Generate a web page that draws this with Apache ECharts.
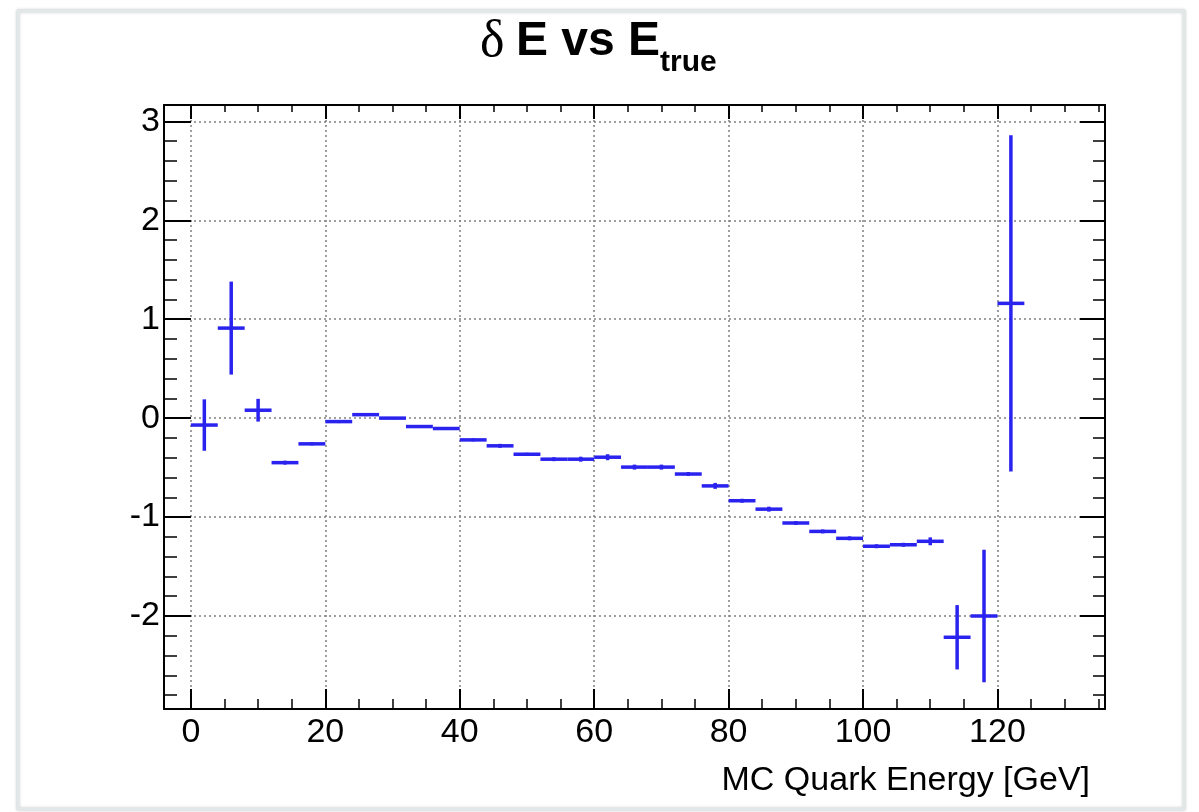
<!DOCTYPE html>
<html>
<head>
<meta charset="utf-8">
<script src="https://cdn.jsdelivr.net/npm/echarts@6/dist/echarts.min.js"></script>
<style>
  html, body { margin: 0; padding: 0; background: #ffffff; }
  #chart { width: 1199px; height: 812px; }
</style>
</head>
<body>
<div id="chart"></div>
<script>
// ---- data ----
const binCenters = [2, 6, 10, 14, 18, 22, 26, 30, 34, 38, 42, 46, 50, 54, 58, 62,
                    66, 70, 74, 78, 82, 86, 90, 94, 98, 102, 106, 110, 114, 118, 122];
const binHalfWidths = [2, 2, 2, 2, 2, 2, 2, 2, 2, 2, 2, 2, 2, 2, 2, 2,
                       2, 2, 2, 2, 2, 2, 2, 2, 2, 2, 2, 2, 2, 2, 2];
const deltaE = [-0.07, 0.91, 0.08, -0.45, -0.26, -0.035, 0.035, 0.0, -0.085, -0.105,
                -0.22, -0.28, -0.365, -0.415, -0.415, -0.395, -0.495, -0.495, -0.565, -0.685,
                -0.835, -0.92, -1.06, -1.145, -1.215, -1.295, -1.28, -1.245, -2.215, -2.0, 1.16];
const deltaEErr = [0.26, 0.47, 0.115, 0.02, 0.015, 0.015, 0.015, 0.01, 0.015, 0.015,
                   0.015, 0.02, 0.015, 0.02, 0.025, 0.03, 0.025, 0.025, 0.02, 0.03,
                   0.02, 0.025, 0.02, 0.02, 0.02, 0.02, 0.02, 0.04, 0.325, 0.67, 1.70];

const xMajorTicks = [0, 20, 40, 60, 80, 100, 120];
const xMinorTicks = [5, 10, 15, 25, 30, 35, 45, 50, 55, 65, 70, 75, 85, 90, 95,
                     105, 110, 115, 125, 130, 135];
const yMajorTicks = [-2, -1, 0, 1, 2, 3];
const yMinorTicks = [-2.8, -2.6, -2.4, -2.2, -1.8, -1.6, -1.4, -1.2, -0.8, -0.6, -0.4, -0.2,
                     0.2, 0.4, 0.6, 0.8, 1.2, 1.4, 1.6, 1.8, 2.2, 2.4, 2.6, 2.8];

const titleParts = { delta: 'δ', main: 'E vs E', sub: 'true' };
const xTitle = 'MC Quark Energy [GeV]';

// ---- styling ----
const FONT = '"Liberation Sans", Arial, Helvetica, sans-serif';
const BLUE = '#2a22ee';
const X_MIN = -4, X_MAX = 136, Y_MIN = -2.94, Y_MAX = 3.165;

const chart = echarts.init(document.getElementById('chart'), null, { renderer: 'canvas' });

function xAxisDef(position, ticks, len, isMain, withLabels) {
  return {
    type: 'value', min: X_MIN, max: X_MAX, position: position, gridIndex: 0,
    axisLine: { show: isMain, onZero: false, lineStyle: { color: '#000', width: 2 } },
    axisTick: { show: true, inside: true, length: len, customValues: ticks,
                lineStyle: { color: '#000', width: isMain ? 2 : 1.5 } },
    axisLabel: withLabels
      ? { show: true, customValues: ticks, margin: 7, fontSize: 34, color: '#000', fontFamily: FONT }
      : { show: false },
    splitLine: withLabels
      ? { show: true, lineStyle: { type: [2, 3], color: '#808080', width: 1.5 } }
      : { show: false }
  };
}
function yAxisDef(position, ticks, len, isMain, withLabels) {
  return {
    type: 'value', min: Y_MIN, max: Y_MAX, position: position, gridIndex: 0,
    axisLine: { show: isMain, onZero: false, lineStyle: { color: '#000', width: 2 } },
    axisTick: { show: true, inside: true, length: len, customValues: ticks,
                lineStyle: { color: '#000', width: isMain ? 2 : 1.5 } },
    axisLabel: withLabels
      ? { show: true, customValues: ticks, margin: 4, fontSize: 34, color: '#000', fontFamily: FONT }
      : { show: false },
    splitLine: withLabels
      ? { show: true, lineStyle: { type: [2, 3], color: '#808080', width: 1.5 } }
      : { show: false }
  };
}

const seriesData = binCenters.map((c, i) => [c, deltaE[i], binHalfWidths[i], deltaEErr[i]]);

const option = {
  backgroundColor: '#ffffff',
  animation: false,
  grid: { left: 164, top: 105, width: 941, height: 604, show: false },
  xAxis: [
    xAxisDef('bottom', xMajorTicks, 20, true, true),
    xAxisDef('bottom', xMinorTicks, 10, false, false),
    xAxisDef('top', xMajorTicks, 14, true, false),
    xAxisDef('top', xMinorTicks, 7, false, false)
  ],
  yAxis: [
    yAxisDef('left', yMajorTicks, 27, true, true),
    yAxisDef('left', yMinorTicks, 13, false, false),
    yAxisDef('right', yMajorTicks, 25, true, false),
    yAxisDef('right', yMinorTicks, 12, false, false)
  ],
  graphic: [
    { type: 'rect', z: -100, silent: true,
      shape: { x: 18, y: 11, width: 1166, height: 798 },
      style: { fill: '#ffffff', stroke: '#e2e7e7', lineWidth: 3,
               shadowBlur: 3, shadowColor: 'rgba(0,0,0,0.18)' } },
    { type: 'text', x: 480, y: 42, silent: true,
      style: { text: titleParts.delta, font: '52px "Liberation Serif", "Times New Roman", serif',
               fill: '#000', align: 'left', verticalAlign: 'middle' } },
    { type: 'text', x: 516, y: 42, silent: true,
      style: { text: titleParts.main, font: 'bold 48px ' + FONT,
               fill: '#000', align: 'left', verticalAlign: 'middle' } },
    { type: 'text', x: 660, y: 63, silent: true,
      style: { text: titleParts.sub, font: 'bold 30px ' + FONT,
               fill: '#000', align: 'left', verticalAlign: 'middle' } },
    { type: 'text', x: 1090, y: 781, silent: true,
      style: { text: xTitle, font: '34px ' + FONT,
               fill: '#000', align: 'right', verticalAlign: 'middle' } }
  ],
  series: [{
    type: 'custom',
    xAxisIndex: 0, yAxisIndex: 0,
    clip: false,
    encode: { x: 0, y: 1 },
    data: seriesData,
    renderItem: function (params, api) {
      const x = api.value(0), y = api.value(1), ex = api.value(2), ey = api.value(3);
      const pL = api.coord([x - ex, y]);
      const pR = api.coord([x + ex, y]);
      const pT = api.coord([x, y + ey]);
      const pB = api.coord([x, y - ey]);
      const st = { stroke: BLUE, lineWidth: 3.5 };
      return {
        type: 'group',
        children: [
          { type: 'line', shape: { x1: pL[0], y1: pL[1], x2: pR[0], y2: pR[1] }, style: st },
          { type: 'line', shape: { x1: pT[0], y1: pT[1], x2: pB[0], y2: pB[1] }, style: st }
        ]
      };
    }
  }]
};
chart.setOption(option);
</script>
</body>
</html>
